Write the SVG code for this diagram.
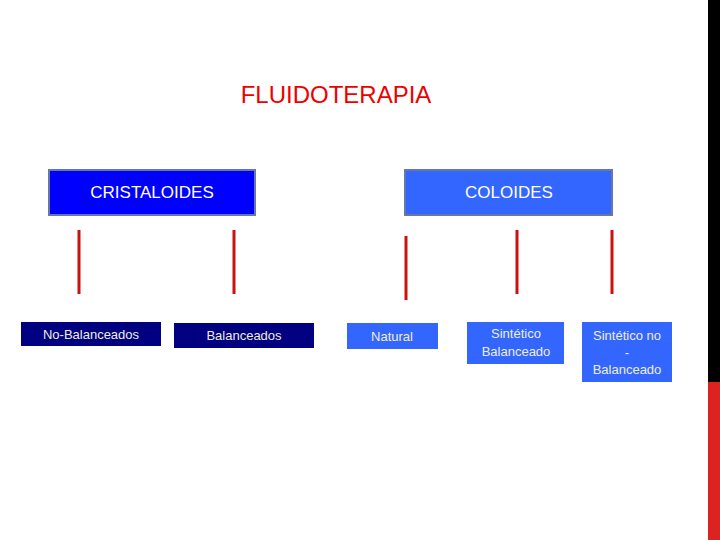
<svg xmlns="http://www.w3.org/2000/svg" width="720" height="540" viewBox="0 0 720 540">
<style>
text{font-family:"Liberation Sans",Arial,sans-serif;text-anchor:middle}
.h{font-size:17px;fill:#fff}
.s{font-size:13px;fill:#eeeedd}
.dk{fill:#000080}
.lt{fill:#3366ff}
.ln{stroke:#cc1111;stroke-width:3}
</style>
<rect width="720" height="540" fill="#fff"/>
<rect x="708" y="0" width="12" height="382" fill="#000"/>
<rect x="708" y="382" width="12" height="158" fill="#dd2222"/>
<text x="336" y="103" style="font-size:24px;fill:#ee0000">FLUIDOTERAPIA</text>
<g id="cristaloides"><rect x="49" y="170" width="206" height="45" fill="#0000ff" stroke="#6677aa" stroke-width="2"/><text class="h" x="152" y="198">CRISTALOIDES</text></g>
<g id="coloides"><rect x="405" y="170" width="207" height="45" class="lt" stroke="#6677aa" stroke-width="2"/><text class="h" x="509" y="198">COLOIDES</text></g>
<g id="connectors">
<line class="ln" x1="79" y1="230" x2="79" y2="294"/>
<line class="ln" x1="234" y1="230" x2="234" y2="294"/>
<line class="ln" x1="406" y1="236" x2="406" y2="300"/>
<line class="ln" x1="517" y1="230" x2="517" y2="294"/>
<line class="ln" x1="612" y1="230" x2="612" y2="294"/>
</g>
<g id="nobal"><rect x="21" y="322" width="140" height="24" class="dk"/><text class="s" x="91" y="339">No-Balanceados</text></g>
<g id="bal"><rect x="174" y="323" width="140" height="25" class="dk"/><text class="s" x="244" y="340">Balanceados</text></g>
<g id="natural"><rect x="347" y="323" width="91" height="26" class="lt"/><text class="s" x="392" y="341">Natural</text></g>
<g id="sintbal"><rect x="467" y="322" width="97" height="42" class="lt"/><text class="s" x="516" y="338">Sintético</text><text class="s" x="516" y="356">Balanceado</text></g>
<g id="sintnobal"><rect x="582" y="322" width="90" height="60" class="lt"/><text class="s" x="627" y="340">Sintético no</text><text class="s" x="627" y="357">-</text><text class="s" x="627" y="374">Balanceado</text></g>
</svg>
